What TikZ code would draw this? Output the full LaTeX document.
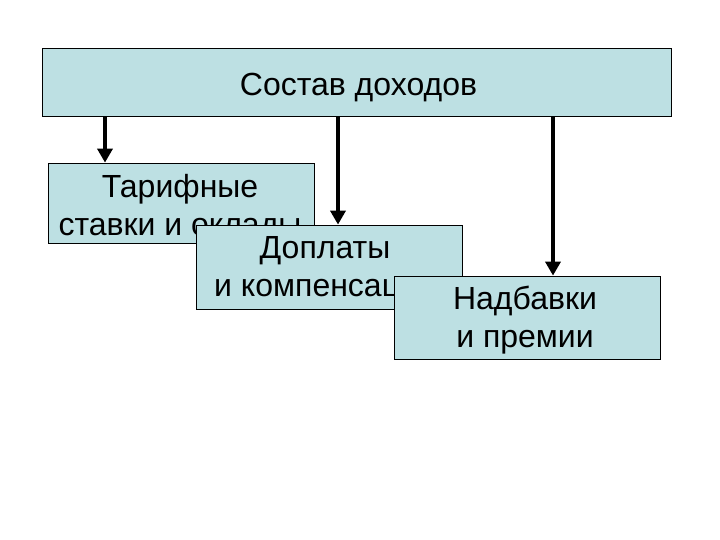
\documentclass[tikz,border=0pt]{standalone}
\usepackage{fontspec}
\setmainfont{Liberation Sans}
\usetikzlibrary{arrows.meta}
\definecolor{boxfill}{HTML}{BDE0E3}
\tikzset{
  box/.style={draw=black, line width=0.8pt, fill=boxfill, inner sep=0pt},
  txt/.style={align=center, inner sep=0pt, font=\fontsize{32pt}{38pt}\selectfont},
  arr/.style={line width=4.5pt, -{Triangle[length=14pt,width=15pt]}}
}
\begin{document}
\begin{tikzpicture}[x=1pt,y=1pt]
\useasboundingbox[fill=white] (0,0) rectangle (720,-540);
\node[box, minimum width=629pt, minimum height=68pt] (top) at (356.5,-82) {};
\node[txt] (t0) at ([xshift=2pt,yshift=-6pt]top.center) {Состав доходов};
\node[box, minimum width=266pt, minimum height=80pt] (b1) at (181,-203) {};
\node[txt] (t1) at ([xshift=-1pt,yshift=-5pt]b1.center) {Тарифные\\ставки и оклады};
\node[box, minimum width=266pt, minimum height=84pt] (b2) at (329,-267) {};
\node[txt] (t2) at ([xshift=-4pt,yshift=-3pt]b2.center) {Доплаты\\и компенсации};
\node[box, minimum width=266pt, minimum height=83pt] (b3) at (527,-317.5) {};
\node[txt] (t3) at ([xshift=-2pt,yshift=-3pt]b3.center) {Надбавки\\и премии};
\coordinate (a1) at (105,0);
\coordinate (a2) at (338,0);
\coordinate (a3) at (553,0);
\draw[arr] (top.south -| a1) -- (b1.north -| a1);
\draw[arr] (top.south -| a2) -- (b2.north -| a2);
\draw[arr] (top.south -| a3) -- (b3.north -| a3);
\end{tikzpicture}
\end{document}
